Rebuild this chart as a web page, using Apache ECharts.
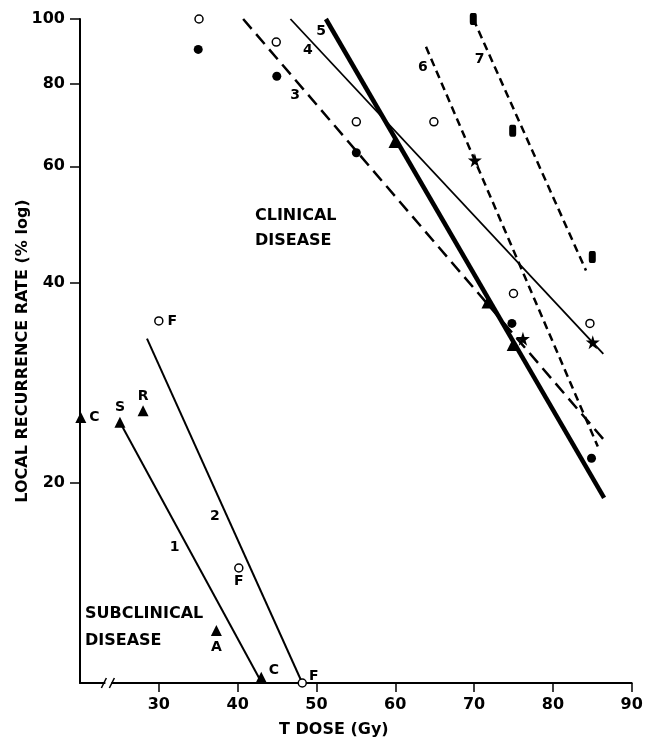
<!DOCTYPE html>
<html>
<head>
<meta charset="utf-8">
<script src="https://cdn.jsdelivr.net/npm/echarts@6.0.0/dist/echarts.min.js"></script>
<style>html,body{margin:0;padding:0;background:#fff;}#c{width:646px;height:740px;}</style>
</head>
<body>
<div id="c"></div>
<script>
// ---- tick labels ----
const xTicks = [30, 40, 50, 60, 70, 80, 90];
const yTicks = [20, 40, 60, 80, 100];
const xBreakAt = 23.6;

// ---- fitted lines (endpoints: [dose, rate]) ----
const line1 = [[25.07, 24.7], [43.07, 10]];
const line2 = [[28.5, 33.0], [48.2, 10]];
const line3 = [[40.7, 100], [86.8, 23.0]];
const line4 = [[46.7, 100], [86.4, 31.3]];
const line5 = [[51.2, 100], [86.5, 19.0]];
const line6 = [[63.9, 90.8], [85.7, 22.7]];
const line7 = [[69.9, 100], [84.2, 41.8]];

// ---- clinical data points ----
const openCircles = [[35.1, 100], [44.9, 92.3], [55.06, 70], [64.9, 70], [75, 38.6], [84.7, 34.8]];
const filledCircles = [[35, 90], [44.97, 82], [55.06, 62.9], [74.8, 34.8], [84.9, 21.8]];
const stars = [[70.1, 61.3], [76.2, 33.0], [85.06, 32.6]];
const triangles = [[59.9, 65.3], [71.7, 37.4], [74.9, 32.3]];
const squares = [[69.9, 100], [74.9, 67.9], [85.0, 43.8]];

// ---- subclinical data points ----
const subTriNames = ['C', 'S', 'R', 'A', 'C'];
const subTriPoints = [[20.1, 25.1], [25.07, 24.7], [28.0, 25.7], [37.3, 12.0], [43.0, 10.2]];
const subCircNames = ['F', 'F', 'F'];
const subCircPoints = [[30.0, 35.1], [40.15, 14.9], [48.2, 10]];

// ---- line number labels ----
const lineNames = ['1', '2', '3', '4', '5', '6', '7'];
const lineNamePoints = [[32.0, 16.0], [37.1, 17.8], [47.3, 76.8], [48.9, 89.6], [50.6, 95.7], [63.5, 84.5], [70.7, 86.9]];

// ---- region texts ----
const regionTexts = ['CLINICAL\nDISEASE', 'SUBCLINICAL\nDISEASE'];
const regionPoints = [[42.2, 48.4], [20.63, 12.14]];

// label placement (style config, not data)
const subTriLabelPos = [
  {position: 'right', distance: 3},
  {position: 'top', distance: 2},
  {position: 'top', distance: 2},
  {position: 'bottom', distance: 4},
  {position: 'right', distance: 2, offset: [0, -7]}
];
const subCircLabelPos = [
  {position: 'right', distance: 4},
  {position: 'bottom', distance: 2},
  {position: 'right', distance: 2, offset: [0, -7]}
];
const regionLineHeights = [25, 27];

const FONT = 'DejaVu Sans';
const BLACK = '#000';

const starPath = 'path://M50,0 L61,35 L98,35 L68,57 L79,91 L50,70 L21,91 L32,57 L2,35 L39,35 Z';

function lineSeries(data, width, type) {
  return {
    type: 'line', data: data, symbol: 'none', silent: true,
    lineStyle: {color: BLACK, width: width, type: type || 'solid', cap: 'butt', opacity: 1},
    z: 2
  };
}

const chart = echarts.init(document.getElementById('c'), null, {renderer: 'canvas'});

const option = {
  animation: false,
  backgroundColor: '#fff',
  grid: {left: 80, right: 14.3, top: 19, bottom: 57, containLabel: false, outerBoundsMode: 'none'},
  xAxis: {
    type: 'value', min: 20, max: 90, interval: 10,
    name: 'T DOSE (Gy)', nameLocation: 'middle', nameGap: 39,
    nameTextStyle: {fontFamily: FONT, fontWeight: 'bold', fontSize: 16, color: BLACK, padding: [0, 44, 0, 0]},
    axisLine: {show: true, onZero: false, lineStyle: {color: BLACK, width: 2}},
    axisTick: {show: true, length: 9, customValues: xTicks, lineStyle: {color: BLACK, width: 1.5}},
    axisLabel: {customValues: xTicks, margin: 14, fontFamily: FONT, fontWeight: 'bold', fontSize: 16, color: BLACK},
    splitLine: {show: false}
  },
  yAxis: {
    type: 'log', logBase: 10, min: 10, max: 100,
    name: 'LOCAL RECURRENCE RATE (% log)', nameLocation: 'middle', nameGap: 49, nameMoveOverlap: false,
    nameTextStyle: {fontFamily: FONT, fontWeight: 'bold', fontSize: 16, color: BLACK},
    axisLine: {show: true, lineStyle: {color: BLACK, width: 2}},
    axisTick: {show: true, length: 10, customValues: yTicks, lineStyle: {color: BLACK, width: 1.5}},
    minorTick: {show: false},
    axisLabel: {customValues: yTicks, margin: 15, fontFamily: FONT, fontWeight: 'bold', fontSize: 16, color: BLACK},
    splitLine: {show: false}
  },
  series: [
    lineSeries(line1, 2),
    lineSeries(line2, 2),
    lineSeries(line3, 2.5, [13, 7]),
    lineSeries(line4, 1.8),
    lineSeries(line5, 4.5),
    lineSeries(line6, 2.5, [8, 5]),
    lineSeries(line7, 2.5, [8, 5]),
    {
      type: 'scatter', data: openCircles, symbol: 'circle', symbolSize: 8, clip: false, z: 3,
      itemStyle: {color: '#fff', borderColor: BLACK, borderWidth: 1.5, opacity: 1}
    },
    {
      type: 'scatter', data: filledCircles, symbol: 'circle', symbolSize: 9, clip: false, z: 3,
      itemStyle: {color: BLACK, opacity: 1}
    },
    {
      type: 'scatter', data: stars, symbol: starPath, symbolSize: 14, clip: false, z: 3,
      itemStyle: {color: BLACK, opacity: 1}
    },
    {
      type: 'scatter', data: triangles, symbol: 'triangle', symbolSize: 12, clip: false, z: 3,
      itemStyle: {color: BLACK, opacity: 1}
    },
    {
      type: 'scatter', data: squares, symbol: 'roundRect', symbolSize: [7, 12], clip: false, z: 3,
      itemStyle: {color: BLACK, opacity: 1}
    },
    {
      type: 'scatter', symbol: 'triangle', symbolSize: 11, clip: false, z: 3,
      itemStyle: {color: BLACK, opacity: 1},
      data: subTriPoints.map((p, i) => ({
        value: p, name: subTriNames[i],
        label: Object.assign({show: true, formatter: '{b}', color: BLACK, fontFamily: FONT, fontWeight: 'bold', fontSize: 14}, subTriLabelPos[i])
      }))
    },
    {
      type: 'scatter', symbol: 'circle', symbolSize: 8, clip: false, z: 3,
      itemStyle: {color: '#fff', borderColor: BLACK, borderWidth: 1.5, opacity: 1},
      data: subCircPoints.map((p, i) => ({
        value: p, name: subCircNames[i],
        label: Object.assign({show: true, formatter: '{b}', color: BLACK, fontFamily: FONT, fontWeight: 'bold', fontSize: 14}, subCircLabelPos[i])
      }))
    },
    {
      type: 'scatter', symbolSize: 1, clip: false, z: 4, silent: true,
      itemStyle: {color: 'rgba(0,0,0,0)', opacity: 1},
      label: {show: true, position: 'inside', formatter: '{b}', color: BLACK, fontFamily: FONT, fontWeight: 'bold', fontSize: 14, align: 'center', verticalAlign: 'middle'},
      data: lineNamePoints.map((p, i) => ({value: p, name: lineNames[i]}))
    },
    {
      type: 'scatter', symbolSize: 1, clip: false, z: 4, silent: true,
      itemStyle: {color: 'rgba(0,0,0,0)', opacity: 1},
      data: regionPoints.map((p, i) => ({
        value: p, name: regionTexts[i],
        label: {show: true, position: 'inside', formatter: '{b}', color: BLACK, fontFamily: FONT, fontWeight: 'bold', fontSize: 16, align: 'left', verticalAlign: 'middle', lineHeight: regionLineHeights[i]}
      }))
    },
    {
      type: 'custom', clip: false, z: 5, silent: true,
      data: [[xBreakAt, 10]],
      renderItem: function (params, api) {
        const p = api.coord([api.value(0), api.value(1)]);
        return {
          type: 'group',
          children: [
            {type: 'rect', shape: {x: p[0] - 3, y: p[1] - 3, width: 6, height: 6}, style: {fill: '#fff'}},
            {type: 'line', shape: {x1: p[0] - 7, y1: p[1] + 5, x2: p[0] - 2, y2: p[1] - 5}, style: {stroke: BLACK, lineWidth: 1.5}},
            {type: 'line', shape: {x1: p[0] + 1, y1: p[1] + 5, x2: p[0] + 6, y2: p[1] - 5}, style: {stroke: BLACK, lineWidth: 1.5}}
          ]
        };
      }
    }
  ]
};
chart.setOption(option);
</script>
</body>
</html>
